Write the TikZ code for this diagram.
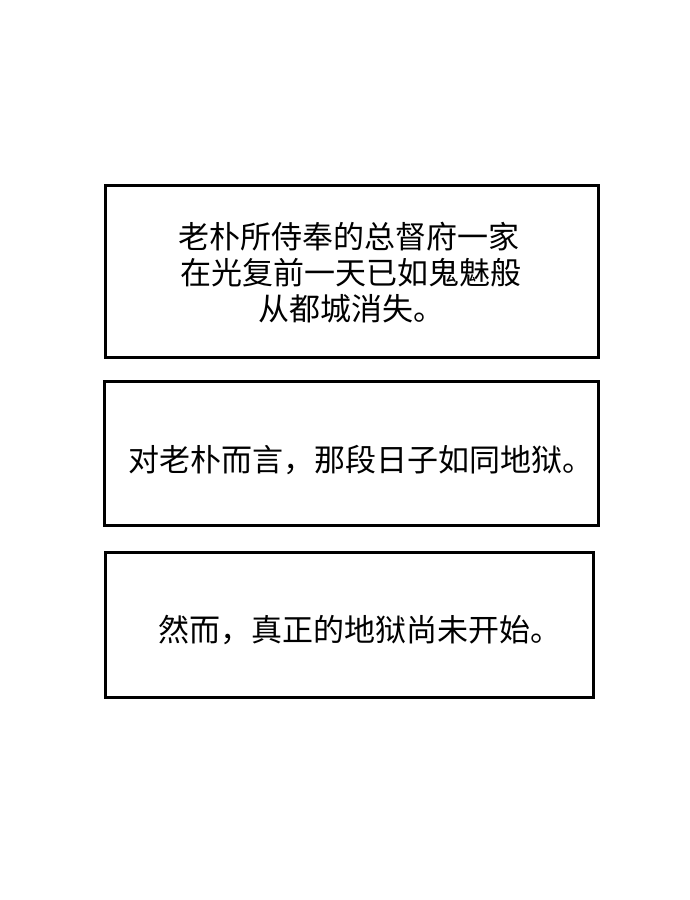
\documentclass[tikz,border=0pt]{standalone}
\usepackage{fontspec}
\newfontfamily\cjk{Noto Sans CJK SC}
\begin{document}
\begin{tikzpicture}[x=1pt,y=-1pt,
  box/.style={draw=black,line width=3pt,fill=white},
  txt/.style={font=\cjk\fontsize{31}{37}\selectfont,inner sep=0pt}]
\useasboundingbox[fill=white] (0,0) rectangle (690,900);
\draw[box] (105,185) rectangle (598,357);
\draw[box] (104,381) rectangle (598,525);
\draw[box] (105,552) rectangle (593,697);
\node[txt,anchor=west] (l1) at (178,237) {老朴所侍奉的总督府一家};
\node[txt,anchor=west] (l2) at (180,273) {在光复前一天已如鬼魅般};
\node[txt,anchor=west] (l3) at (258,309) {从都城消失。};
\node[txt,anchor=west] (m) at (128,460) {对老朴而言，那段日子如同地狱。};
\node[txt,anchor=west] (b) at (158,630) {然而，真正的地狱尚未开始。};
\end{tikzpicture}
\end{document}
